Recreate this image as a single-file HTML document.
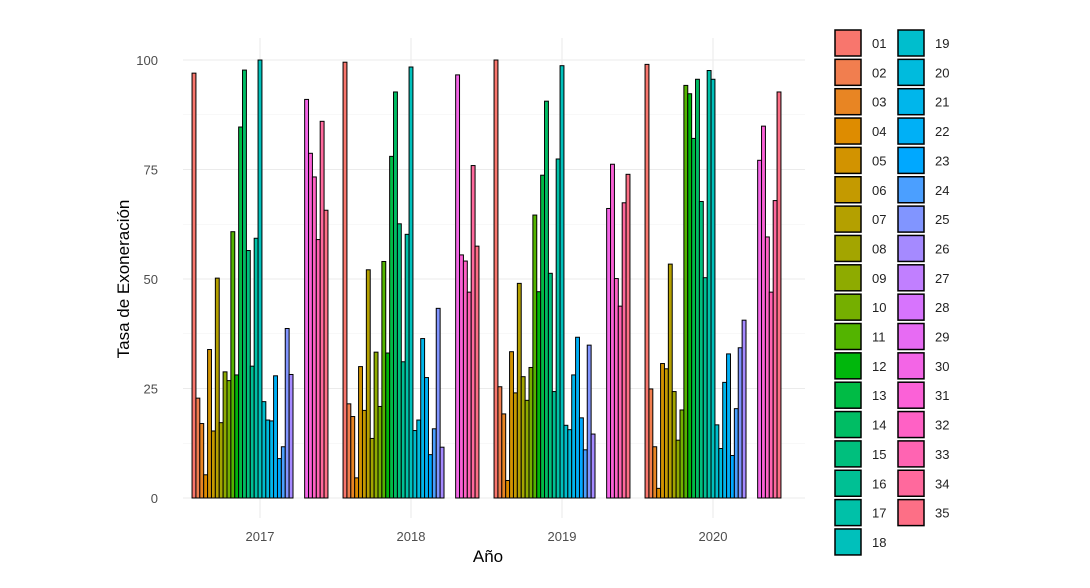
<!DOCTYPE html>
<html><head><meta charset="utf-8"><style>
body{margin:0;background:#fff;}
svg text{font-family:"Liberation Sans",sans-serif;}
</style></head><body>
<svg id="chart" width="1090" height="583" xmlns="http://www.w3.org/2000/svg">
<g id="grid"></g>
<g id="bars"></g>
<g id="axes"></g>
<text x="129" y="279" font-size="17" fill="#000" text-anchor="middle" transform="rotate(-90 129 279)">Tasa de Exoneración</text>
<text x="488" y="562" font-size="17" fill="#000" text-anchor="middle">Año</text>
<g id="legend"></g>
</svg>
<script>
const years = ["2017","2018","2019","2020"];
const groups = ["01","02","03","04","05","06","07","08","09","10","11","12","13","14","15","16","17","18","19","20","21","22","23","24","25","26","27","28","29","30","31","32","33","34","35"];
const v2017 = [97,22.8,17,5.3,33.9,15.3,50.2,17.2,28.8,26.8,60.8,28.1,84.7,97.7,56.5,30.1,59.3,100,22,17.8,17.6,27.9,9,11.7,38.7,28.2,0,0,0,91,78.7,73.3,59,86,65.7];
const v2018 = [99.5,21.5,18.6,4.6,30,20,52.1,13.6,33.3,20.9,54,33.1,78,92.7,62.6,31.1,60.2,98.4,15.4,17.8,36.4,27.5,9.9,15.8,43.3,11.6,0,0,0,96.6,55.5,54.1,47,75.9,57.5];
const v2019 = [100,25.4,19.2,4,33.4,24,49,27.7,22.3,29.8,64.6,47.1,73.7,90.6,51.3,24.3,77.4,98.7,16.6,15.6,28.1,36.7,18.3,11,34.9,14.6,0,0,0,66.1,76.2,50.1,43.8,67.4,73.9];
const v2020 = [99,24.9,11.7,2.2,30.7,29.5,53.4,24.3,13.2,20.1,94.2,92.3,82.1,95.6,67.7,50.3,97.6,95.6,16.7,11.3,26.4,32.9,9.7,20.4,34.3,40.6,0,0,0,77.1,84.9,59.6,47,67.9,92.7];
const series = [v2017,v2018,v2019,v2020];
const yTicks = [0,25,50,75,100];

const NS="http://www.w3.org/2000/svg";
function mk(tag,attrs,parent){const e=document.createElementNS(NS,tag);for(const k in attrs)e.setAttribute(k,attrs[k]);parent.appendChild(e);return e;}
const px0=183, px1=805, py0=498, pyTop=60;
const y = v => py0 - (v/100)*(py0-pyTop);
const step=151, x0=260;
const xc = i => x0 + i*step;
const gw = 0.9*step, bw = gw/groups.length;

function hcl(h,c,l){
  const hr=h*Math.PI/180, u=c*Math.cos(hr), v=c*Math.sin(hr);
  const Yn=1, un=0.1978398, vn=0.4683363;
  const Y = l>8 ? Yn*Math.pow((l+16)/116,3) : Yn*l/903.3;
  const up=u/(13*l)+un, vp=v/(13*l)+vn;
  const X=Y*9*up/(4*vp), Z=Y*(12-3*up-20*vp)/(4*vp);
  let r=3.2404542*X-1.5371385*Y-0.4985314*Z;
  let g=-0.9692660*X+1.8760108*Y+0.0415560*Z;
  let b=0.0556434*X-0.2040259*Y+1.0572252*Z;
  const f=c=>{c=c<=0.0031308?12.92*c:1.055*Math.pow(c,1/2.4)-0.055;return Math.round(Math.max(0,Math.min(1,c))*255);};
  return `rgb(${f(r)},${f(g)},${f(b)})`;
}
const n=groups.length;
const colors = groups.map((g,i)=>hcl(15+360*i/n,100,65));

const grid=document.getElementById('grid');
for(let v=12.5; v<100; v+=25){
  const l=mk('line',{x1:px0,x2:px1,y1:y(v),y2:y(v),stroke:'#f0f0f0','stroke-width':0.6},grid);
  
  
}
yTicks.forEach(t=>{
  const l=mk('line',{x1:px0,x2:px1,y1:y(t),y2:y(t),stroke:'#ebebeb','stroke-width':1.1},grid);
  
  
});
years.forEach((yr,i)=>{
  const l=mk('line',{x1:xc(i),x2:xc(i),y1:38,y2:py0+20,stroke:'#ebebeb','stroke-width':1.1},grid);
  
  
});

const bars=document.getElementById('bars');
series.forEach((vals,i)=>{
  vals.forEach((v,j)=>{
    const bx = xc(i)-gw/2 + j*bw;
    const r=mk('rect',{x:bx,y:y(v),width:bw,height:py0-y(v),fill:colors[j],stroke:'#000','stroke-width':1},bars);
    
    
  });
});

const axes=document.getElementById('axes');
yTicks.forEach(t=>{
  const tx=mk('text',{x:158,y:y(t)+5,'font-size':13,fill:'#4d4d4d','text-anchor':'end'},axes);
  tx.textContent=t;
  
  
});
years.forEach((yr,i)=>{
  const tx=mk('text',{x:xc(i),y:541,'font-size':13,fill:'#4d4d4d','text-anchor':'middle'},axes);
  tx.textContent=yr;
  
  
});

const leg=document.getElementById('legend');
groups.forEach((g,j)=>{
  const col = j<18?0:1, row = j<18?j:j-18;
  const kx = col? 898:835, ky = 30 + row*29.35;
  const r=mk('rect',{x:kx,y:ky,width:26,height:26,fill:colors[j],stroke:'#000','stroke-width':1.5},leg);
  
  
  const t=mk('text',{x:kx+37,y:ky+18,'font-size':13,fill:'#222'},leg);
  t.textContent=g;
  
  
});
</script>
</body></html>
